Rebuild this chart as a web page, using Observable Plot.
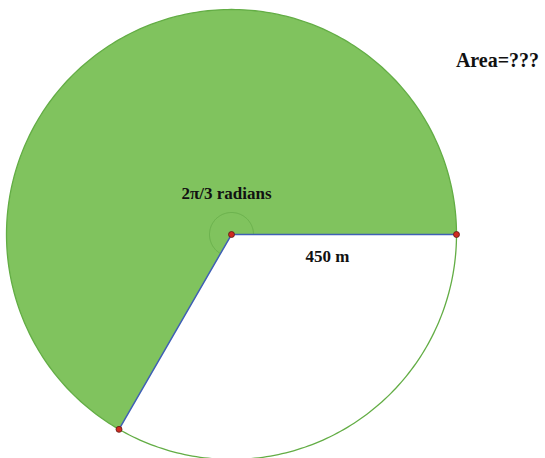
<!DOCTYPE html>
<html>
<head>
<meta charset="utf-8">
<script src="https://cdn.jsdelivr.net/npm/d3@7"></script>
<script src="https://cdn.jsdelivr.net/npm/@observablehq/plot@0.6"></script>
<style>
  html, body { margin: 0; padding: 0; background: #fff; }
</style>
</head>
<body>
<div id="chart"></div>
<script>
// ---- data ----
const radiusM = [450];                 // circle radius (m)
const whiteAngleDeg = [120];           // unshaded sector angle (2π/3)
const markRadiusM = [44];              // small angle marker radius
const labelText = ["2π/3 radians", "450 m", "Area=???"];
const labelX = [-10, 192, 532];
const labelY = [82, -44, 348];
const labelSize = [17, 17, 20];

// ---- geometry built from data ----
const R = radiusM[0];
const greenEnd = 360 - whiteAngleDeg[0];  // green spans 0..240 deg
const rad = d => d * Math.PI / 180;
function arcPts(r, a0, a1, step = 1) {
  const pts = [];
  for (let a = a0; a <= a1 + 1e-9; a += step) pts.push({x: r * Math.cos(rad(a)), y: r * Math.sin(rad(a))});
  return pts;
}
const sector = [{x: 0, y: 0}, ...arcPts(R, 0, greenEnd), {x: 0, y: 0}];
const circle = arcPts(R, 0, 360);
const marker = arcPts(markRadiusM[0], 0, greenEnd);
const ends = [{x: R, y: 0}, {x: R * Math.cos(rad(greenEnd)), y: R * Math.sin(rad(greenEnd))}];
const radii = ends.map(e => [{x: 0, y: 0}, e]);
const dots = [{x: 0, y: 0}, ...ends];
const labels = labelText.map((t, i) => ({t, x: labelX[i], y: labelY[i], s: labelSize[i]}));

const plot = Plot.plot({
  width: 545,
  height: 458,
  margin: 0,
  x: {domain: [-462, 628], axis: null},
  y: {domain: [-448, 468], axis: null},
  style: {background: "#fff", overflow: "visible"},
  marks: [
    Plot.line(sector, {x: "x", y: "y", fill: "#80c35e", stroke: "none", curve: "linear"}),
    Plot.line(circle, {x: "x", y: "y", stroke: "#63ad45", strokeWidth: 1.3}),
    Plot.line(marker, {x: "x", y: "y", stroke: "#5fa543", strokeWidth: 0.8, strokeOpacity: 0.8}),
    ...radii.map(seg => Plot.line(seg, {x: "x", y: "y", stroke: "#3f5fb5", strokeWidth: 1.5})),
    Plot.dot(dots, {x: "x", y: "y", r: 3, fill: "#d02a20", stroke: "#5a1a14", strokeWidth: 0.8}),
    ...labels.map(l => Plot.text([l], {
      x: "x", y: "y", text: "t", fontSize: l.s, fontWeight: "bold",
      fontFamily: "Liberation Serif", fill: "#111", textAnchor: "middle", lineAnchor: "middle"
    }))
  ]
});
document.getElementById("chart").appendChild(plot);
</script>
</body>
</html>
